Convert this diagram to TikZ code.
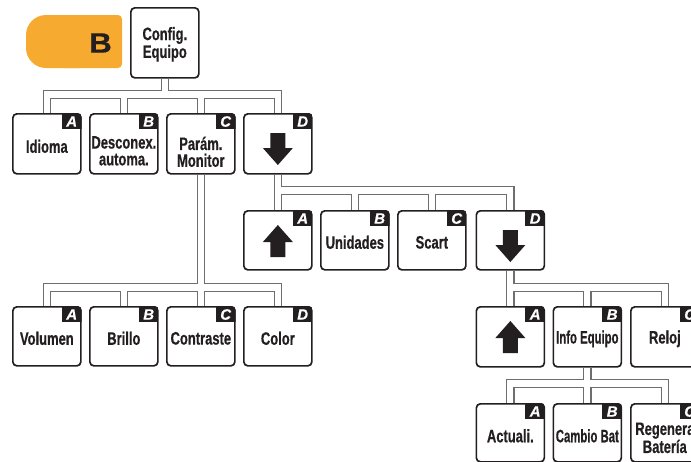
\documentclass[tikz,border=0pt]{standalone}
\usepackage{fontspec}
\setmainfont{Liberation Sans}
\newfontfamily\condfont[FakeStretch=0.72, BoldFeatures={FakeBold=0.5}]{Liberation Sans}
\newfontfamily\tightfont[FakeStretch=0.63, BoldFeatures={FakeBold=0.5}]{Liberation Sans}
\newfontfamily\widefont[FakeStretch=1.12, BoldFeatures={FakeBold=0.6}]{Liberation Sans}
\newfontfamily\badgefont[BoldItalicFeatures={FakeBold=0.4}]{Liberation Sans}

\definecolor{tabfill}{RGB}{246,170,48}
\definecolor{ink}{RGB}{35,31,32}
\definecolor{linkgray}{RGB}{110,110,110}

\pgfdeclarelayer{links}
\pgfsetlayers{links,main}

\tikzset{
  menubox/.style={draw=ink, line width=1.7pt, fill=white, rounded corners=4pt,
    minimum width=68pt, anchor=north west, inner sep=0pt},
  badgeletter/.style={text=white, font=\badgefont\bfseries\itshape\fontsize{15}{15}\selectfont, inner sep=0pt},
  itemtext/.style={text=ink, font=\condfont\bfseries\fontsize{18}{16.8}\selectfont,
    align=center, inner sep=0pt},
  tighttext/.style={itemtext, font=\tightfont\bfseries\fontsize{18}{16.8}\selectfont},
  linkouter/.style={draw=linkgray, line width=8.6pt, line join=miter},
  linkinner/.style={draw=white, line width=6.2pt, line join=miter},
}

% menu box with its letter badge: name, left, top, height, letter
\newcommand\menuitem[5]{%
  \node[menubox, minimum height=#4pt] (#1) at (#2,#3) {};
  \begin{scope}
    \clip[rounded corners=4pt] (#1.south west) rectangle (#1.north east);
    \fill[ink] (#1.north east) rectangle ++(-20,16);
  \end{scope}
  \node[badgeletter] (#1-l) at ([xshift=-10pt,yshift=-8.5pt]#1.north east) {#5};
}

% arrow icons drawn inside a box
\newcommand\icondown[1]{%
  \fill[ink] ([xshift=-7.5pt,yshift=-20pt]#1.north) -- ++(15,0) -- ++(0,15)
    -- ++(7.5,0) -- ++(-15,17) -- ++(-15,-17) -- ++(7.5,0) -- cycle;}
\newcommand\iconup[1]{%
  \fill[ink] ([yshift=-15pt]#1.north) -- ++(15,17) -- ++(-7.5,0) -- ++(0,15)
    -- ++(-15,0) -- ++(0,-15) -- ++(-7.5,0) -- cycle;}

% tree connectors, drawn once wide in gray and once narrow in white
\newcommand\treelinks[1]{%
  % Config. Equipo
  \draw[#1] (idioma.north) |- (bus1 -| dn1.north) -- (dn1.north);
  \draw[#1] (descon.north) -- (descon.north |- bus1);
  \draw[#1] (param.north) -- (param.north |- bus1);
  \draw[#1] (cfg.south) -- (cfg.south |- bus1);
  % second page
  \draw[#1] (dn1.south) -- (up2.north);
  \draw[#1] (dn1.south |- bus2) -| (dn2.north);
  \draw[#1] (unid.north) -- (unid.north |- bus2);
  \draw[#1] (scart.north) -- (scart.north |- bus2);
  % Param. Monitor
  \draw[#1] (param.south) -- (contr.north);
  \draw[#1] (vol.north) |- (bus3 -| color.north) -- (color.north);
  \draw[#1] (bril.north) -- (bril.north |- bus3);
  % third page
  \draw[#1] (dn2.south) -- (up4.north);
  \draw[#1] (dn2.south |- bus4) -| (reloj.north);
  \draw[#1] (info.north) -- (info.north |- bus4);
  % Info Equipo
  \draw[#1] (info.south) -- (camb.north);
  \draw[#1] (actu.north) |- (bus5 -| regen.north) -- (regen.north);
}

\begin{document}
\begin{tikzpicture}[x=1pt, y=-1pt]
  \useasboundingbox (0,0) rectangle (691,461);
  \clip (0,0) rectangle (691,461);

  % section tab
  \fill[tabfill, rounded corners=20pt] (26,15) rectangle (100,68);
  \fill[tabfill, rounded corners=4pt] (60,15) rectangle (122,68);
  \node[text=ink, font=\widefont\bfseries\fontsize{28}{28}\selectfont, inner sep=0pt]
    (tabletter) at (100.5,43) {B};

  % root
  \node[menubox, minimum height=70pt] (cfg) at (130,7) {};
  \node[itemtext] (cfg-t) at ([yshift=-1.5pt]cfg.center) {Config.\\Equipo};

  % first level
  \menuitem{idioma}{12}{113}{60}{A}
  \menuitem{descon}{89}{113}{60}{B}
  \menuitem{param}{166}{113}{60}{C}
  \menuitem{dn1}{243}{113}{60}{D}
  \node[itemtext] (idioma-t) at ([yshift=-2.5pt]idioma.center) {Idioma};
  \node[itemtext] (descon-t) at ([yshift=-7pt]descon.center) {Desconex.\\automa.};
  \node[itemtext] (param-t) at ([yshift=-8pt]param.center) {Parám.\\Monitor};
  \icondown{dn1}

  % second page of settings
  \menuitem{up2}{243}{210}{59}{A}
  \menuitem{unid}{320}{210}{59}{B}
  \menuitem{scart}{397}{210}{59}{C}
  \menuitem{dn2}{475.5}{210}{59}{D}
  \iconup{up2}
  \node[itemtext] (unid-t) at ([yshift=-2pt]unid.center) {Unidades};
  \node[itemtext] (scart-t) at ([yshift=-2pt]scart.center) {Scart};
  \icondown{dn2}

  % monitor settings
  \menuitem{vol}{12}{306}{59}{A}
  \menuitem{bril}{89}{306}{59}{B}
  \menuitem{contr}{166}{306}{59}{C}
  \menuitem{color}{243}{306}{59}{D}
  \node[itemtext] (vol-t) at ([yshift=-2pt]vol.center) {Volumen};
  \node[itemtext] (bril-t) at ([yshift=-2pt]bril.center) {Brillo};
  \node[itemtext] (contr-t) at ([yshift=-2pt]contr.center) {Contraste};
  \node[itemtext] (color-t) at ([yshift=-2pt]color.center) {Color};

  % third page of settings
  \menuitem{up4}{475.5}{306}{60}{A}
  \menuitem{info}{552.5}{306}{60}{B}
  \menuitem{reloj}{630}{306}{60}{C}
  \iconup{up4}
  \node[tighttext] (info-t) at ([yshift=-2pt]info.center) {Info Equipo};
  \node[itemtext] (reloj-t) at ([yshift=-2pt]reloj.center) {Reloj};

  % equipment info
  \menuitem{actu}{475.5}{403}{58}{A}
  \menuitem{camb}{552.5}{403}{58}{B}
  \menuitem{regen}{630}{403}{58}{C}
  \node[itemtext] (actu-t) at ([yshift=-3pt]actu.center) {Actuali.};
  \node[tighttext] (camb-t) at ([yshift=-3pt]camb.center) {Cambio Bat};
  \node[itemtext] (regen-t) at ([yshift=-5pt]regen.center) {Regenera\\Batería};

  % bus heights
  \coordinate (bus1) at (0,94.5);
  \coordinate (bus2) at (0,190.5);
  \coordinate (bus3) at (0,287.5);
  \coordinate (bus4) at (0,287.5);
  \coordinate (bus5) at (0,383.5);

  \begin{pgfonlayer}{links}
    \treelinks{linkouter}
    \treelinks{linkinner}
  \end{pgfonlayer}
\end{tikzpicture}
\end{document}
